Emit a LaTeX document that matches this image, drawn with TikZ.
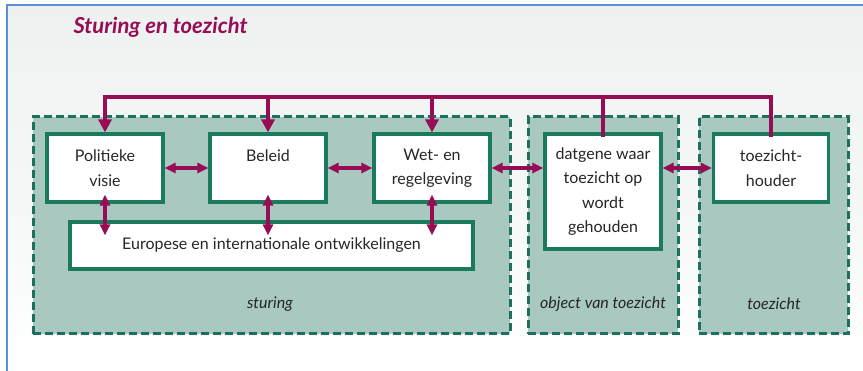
\documentclass[tikz,border=0pt]{standalone}
\usepackage{fontspec}
\setmainfont{Lato}
\usetikzlibrary{arrows.meta}
\definecolor{bgtop}{HTML}{EDF2F0}
\definecolor{frameblue}{HTML}{5B8FD8}
\definecolor{groupfill}{HTML}{A8C8C0}
\definecolor{groupline}{HTML}{1D7060}
\definecolor{boxline}{HTML}{1A7A5E}
\definecolor{plum}{HTML}{980B55}
\tikzset{
  groupbox/.style={draw=groupline, fill=groupfill, line width=3pt, dash pattern=on 8pt off 4pt, minimum height=217pt, inner sep=0pt},
  itembox/.style={draw=boxline, fill=white, line width=3.2pt, align=center, inner sep=0pt, font=\fontsize{16}{24.5}\selectfont, text=black!85},
  grouplabel/.style={font=\fontsize{16}{18}\selectfont\itshape, text=black!85},
  bus/.style={draw=plum, line width=4.5pt},
  busarrow/.style={bus, -{Triangle[width=13pt,length=13pt]}},
  linkarrow/.style={draw=plum, line width=3.5pt, {Triangle[width=10pt,length=11pt]}-{Triangle[width=10pt,length=11pt]}}
}
\begin{document}
\begin{tikzpicture}[x=1pt,y=-1pt]
\useasboundingbox (0,0) rectangle (863,371);
\shade[top color=bgtop, bottom color=white, middle color=bgtop!60] (7,5) rectangle (863,371);
\draw[frameblue, line width=2pt] (7,371) -- (7,5) -- (863,5);
\node[anchor=base west, text=plum, font=\fontsize{22}{24}\selectfont\bfseries\itshape] (titel) at (70,34) {Sturing en toezicht};
\node[groupbox, minimum width=477pt] (sturing) at (271.5,225.5) {};
\node[groupbox, minimum width=150pt] (objectgrp) at (603,225.5) {};
\node[groupbox, minimum width=149pt] (toezicht) at (773.5,225.5) {};
\node[itembox, minimum width=116pt, minimum height=68pt] (politiek) at (105,168) {Politieke\\visie};
\node[itembox, minimum width=116pt, minimum height=68pt] (beleid) at (268,168) {Beleid\\\mbox{}};
\node[itembox, minimum width=116pt, minimum height=68pt] (wetgeving) at (432,168) {Wet- en\\regelgeving};
\node[itembox, minimum width=403pt, minimum height=47pt] (europees) at (271.5,245.5) {Europese en internationale ontwikkelingen};
\node[itembox, minimum width=116pt, minimum height=115pt] (object) at (603,191.5) {datgene waar\\toezicht op\\wordt\\gehouden};
\node[itembox, minimum width=115pt, minimum height=68pt] (houder) at (771,168) {toezicht-\\houder};
\node[grouplabel] (sturinglabel) at (270,304) {sturing};
\node[grouplabel] (objectlabel) at (603,304) {object van toezicht};
\node[grouplabel] (toezichtlabel) at (774,304) {toezicht};
\coordinate (busleft) at (105,97);
\coordinate (busright) at (771,97);
\draw[bus, line cap=rect] (busleft) -- (busright);
\draw[busarrow] (busleft) -- (politiek.north);
\draw[busarrow] (beleid.north |- busleft) -- (beleid.north);
\draw[busarrow] (wetgeving.north |- busleft) -- (wetgeving.north);
\draw[bus] (object.north |- busleft) -- ([yshift=-5pt]object.north);
\draw[bus] (busright) -- ([yshift=-5pt]houder.north);
\draw[linkarrow] (politiek.east) -- (beleid.west);
\draw[linkarrow] (beleid.east) -- (wetgeving.west);
\draw[linkarrow] (wetgeving.east) -- (wetgeving.east -| object.west);
\draw[linkarrow] (houder.west -| object.east) -- (houder.west);
\draw[linkarrow, shorten <=-9pt, shorten >=-15pt] (politiek.south) -- (politiek.south |- europees.north);
\draw[linkarrow, shorten <=-9pt, shorten >=-15pt] (beleid.south) -- (beleid.south |- europees.north);
\draw[linkarrow, shorten <=-9pt, shorten >=-15pt] (wetgeving.south) -- (wetgeving.south |- europees.north);
\end{tikzpicture}
\end{document}
